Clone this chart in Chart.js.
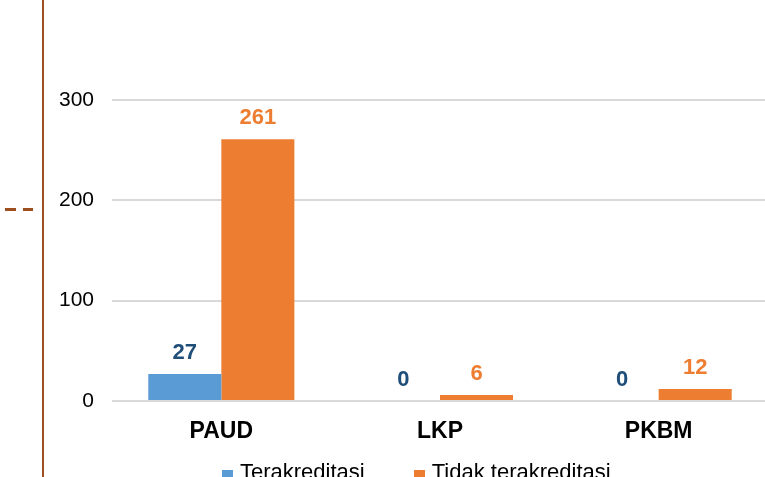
<!DOCTYPE html>
<html lang="id">
<head>
<meta charset="UTF-8">
<title>Akreditasi</title>
<script src="https://cdn.jsdelivr.net/npm/chart.js"></script>
<style>
    html, body {
        margin: 0;
        padding: 0;
        width: 765px;
        height: 477px;
        overflow: hidden;
        background: #ffffff;
        font-family: "Liberation Sans", Arial, sans-serif;
    }
    .wrap {
        position: relative;
        width: 765px;
        height: 477px;
    }
    #chart {
        position: absolute;
        left: 0;
        top: 0;
    }
    .side-line {
        position: absolute;
        left: 42px;
        top: 0;
        width: 2px;
        height: 477px;
        background: #9e4f1f;
    }
    .dash {
        position: absolute;
        top: 208px;
        height: 3px;
        background: #9e4f1f;
    }
    #legend {
        position: absolute;
        left: 222px;
        top: 459px;
        white-space: nowrap;
        font-size: 22px;
        line-height: 26px;
        color: #000;
    }
    #legend .item { margin-right: 49px; }
    #legend .box {
        display: inline-block;
        position: relative;
        top: 2px;
        width: 11px;
        height: 11px;
        margin-right: 7px;
        vertical-align: baseline;
    }
</style>
</head>
<body>
<div class="wrap">
    <canvas id="chart" width="768" height="477"></canvas>
    <div class="side-line"></div>
    <div class="dash" style="left:5px;width:11px"></div>
    <div class="dash" style="left:23px;width:10px"></div>
    <div id="legend"></div>
</div>

<script>
// data
const categories = ['PAUD', 'LKP', 'PKBM'];
const seriesNames = ['Terakreditasi', 'Tidak terakreditasi'];
const terakreditasi = [27, 0, 0];
const tidakTerakreditasi = [261, 6, 12];
const yTicks = [0, 100, 200, 300];

const barColors = ['#5b9bd5', '#ed7d31'];
const labelColors = ['#1f4e79', '#ed7d31'];

// values above the bars
const valueLabels = {
    id: 'valueLabels',
    afterDatasetsDraw(chart) {
        const ctx = chart.ctx;
        ctx.save();
        ctx.font = 'bold 22px "Liberation Sans", Arial, sans-serif';
        ctx.textAlign = 'center';
        ctx.textBaseline = 'alphabetic';
        chart.data.datasets.forEach((ds, i) => {
            const meta = chart.getDatasetMeta(i);
            ctx.fillStyle = labelColors[i];
            meta.data.forEach((bar, j) => {
                ctx.fillText(String(ds.data[j]), bar.x, bar.y - 15);
            });
        });
        ctx.restore();
    }
};

new Chart(document.getElementById('chart').getContext('2d'), {
    type: 'bar',
    data: {
        labels: categories,
        datasets: [
            { label: seriesNames[0], data: terakreditasi, backgroundColor: barColors[0] },
            { label: seriesNames[1], data: tidakTerakreditasi, backgroundColor: barColors[1] }
        ]
    },
    options: {
        responsive: false,
        animation: false,
        devicePixelRatio: 1,
        layout: { padding: { top: 100, left: 0, right: 0, bottom: 0 } },
        datasets: {
            bar: { categoryPercentage: 0.668, barPercentage: 1.0 }
        },
        plugins: {
            legend: { display: false },
            tooltip: { enabled: false }
        },
        scales: {
            x: {
                grid: { display: false },
                border: { display: false },
                ticks: {
                    color: '#000',
                    padding: 9,
                    font: { family: '"Liberation Sans", Arial, sans-serif', size: 23, weight: 'bold' }
                },
                afterFit(scale) { scale.height = 76; }
            },
            y: {
                min: 0,
                max: 300,
                afterBuildTicks(scale) { scale.ticks = yTicks.map(v => ({ value: v })); },
                grid: { color: '#d9d9d9', lineWidth: 2, drawTicks: false },
                border: { display: false },
                ticks: {
                    color: '#000',
                    padding: 18,
                    font: { family: '"Liberation Sans", Arial, sans-serif', size: 21 }
                },
                afterFit(scale) { scale.width = 112; }
            }
        }
    },
    plugins: [valueLabels]
});

// legend, built from the same series arrays
const legend = document.getElementById('legend');
seriesNames.forEach((name, i) => {
    const item = document.createElement('span');
    item.className = 'item';
    const box = document.createElement('span');
    box.className = 'box';
    box.style.background = barColors[i];
    item.appendChild(box);
    item.appendChild(document.createTextNode(name));
    legend.appendChild(item);
});
</script>
</body>
</html>
